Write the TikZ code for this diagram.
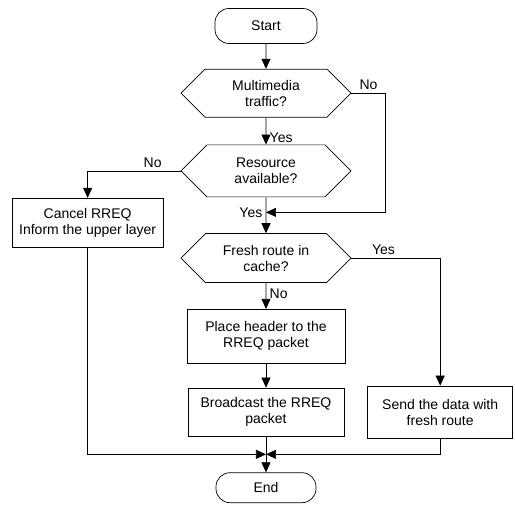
\documentclass[tikz,border=0pt]{standalone}
\usepackage{fontspec}
\setmainfont{Liberation Sans}
\usetikzlibrary{arrows.meta,positioning,shapes.symbols,calc}

\begin{document}
\begin{tikzpicture}[>={Triangle[length=10pt,width=9pt]}, line width=0.7pt,
    font=\fontsize{14}{16}\selectfont]
  \tikzset{block/.style= {draw, rectangle, align=center, minimum
      width=156pt, minimum height=50pt},
    decision/.style= {draw, signal, signal to=west and east, align=center,
      minimum width=170pt, minimum height=48pt},
    terminal/.style= {draw, rectangle, rounded corners=14pt,
      minimum width=102pt, minimum height=35pt}}
  \useasboundingbox (-266pt,26pt) rectangle (249pt,-482pt);
  \node[terminal] (start) at (0,0) {Start};
  \node[decision, below =25pt of start] (multi) {Multimedia\\traffic?};
  \node[decision, below =27pt of multi, minimum height=52pt] (res) {Resource\\available?};
  \node[decision, below =36pt of res, minimum height=49pt] (fresh) {Fresh route in\\cache?};
  \node[block, below left =27pt and 17pt of res.west, minimum width=151pt,
    minimum height=49pt] (cancel) {Cancel RREQ\\Inform the upper layer};
  \node[block, below =26pt of fresh, minimum width=158pt, minimum height=54pt] (place) {Place header to the\\RREQ packet};
  \node[block, below =24pt of place, minimum height=48pt] (bcast) {Broadcast the RREQ\\packet};
  \node[block, right =23pt of bcast, minimum width=145pt, minimum height=52pt] (send) {Send the data with\\fresh route};
  \node[terminal, below =36pt of bcast, minimum width=100pt, minimum height=30pt] (end) {End};

  \coordinate (join1) at ($(res.south)!0.42!(fresh.north)$);
  \coordinate (join2) at ($(bcast.south)!0.5!(end.north)$);

  \path[draw, ->] (start) -- (multi);
  \path[draw, ->] (multi) -- node[pos=0.75, right] {Yes} (res);
  \path[draw, ->] (multi.east) -- node[above] {No} ++(34pt,0) |- (join1);
  \path[draw, ->] (res.west) -| node[pos=0.15, above] {No} (cancel.north);
  \path[draw, ->] (res) -- node[pos=0.42, left] {Yes} (fresh);
  \path[draw, ->] (fresh.east) -| node[pos=0.18, above] {Yes} (send.north);
  \path[draw, ->] (fresh) -- node[pos=0.4, right] {No} (place);
  \path[draw, ->] (place) -- (bcast);
  \path[draw, ->] (bcast) -- (end);
  \path[draw, ->] (cancel.south) |- (join2);
  \path[draw, ->] (send.south) |- (join2);
\end{tikzpicture}
\end{document}
